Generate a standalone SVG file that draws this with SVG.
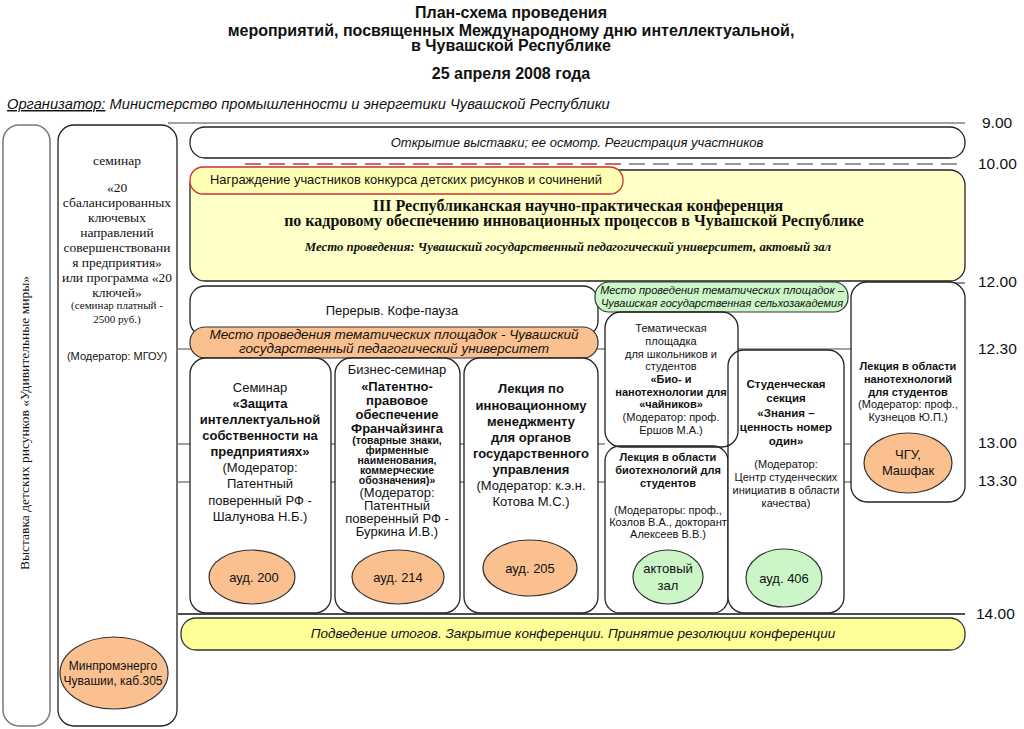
<svg xmlns="http://www.w3.org/2000/svg" width="1024" height="729" viewBox="0 0 1024 729">
<style>
text{font-family:"Liberation Sans",Arial,sans-serif;fill:#111}
.serif{font-family:"Liberation Serif","Times New Roman",serif}
.c{text-anchor:middle}
.b{font-weight:bold}
.i{font-style:italic}
.box{fill:#fff;stroke:#222;stroke-width:1.3}
.orange{fill:#FAC08F;stroke:#333;stroke-width:1.2}
.green{fill:#CCF5C8;stroke:#333;stroke-width:1.2}
.tl{stroke:#444;stroke-width:1.2;fill:none}
.time{font-size:15.5px}
</style>
<rect width="1024" height="729" fill="#fff"/>
<g id="title">
<text class="c b" x="511" y="18" font-size="16">План-схема проведения</text>
<text class="c b" x="511" y="36" font-size="16">мероприятий, посвященных Международному дню интеллектуальной,</text>
<text class="c b" x="511" y="51" font-size="16">в Чувашской Республике</text>
<text class="c b" x="511" y="79" font-size="16">25 апреля 2008 года</text>
<text class="i" x="7" y="109" font-size="14.7"><tspan text-decoration="underline">Организатор:</tspan> Министерство промышленности и энергетики Чувашской Республики</text>
</g>
<g id="connectors">
<line class="tl" x1="168" y1="123" x2="965" y2="123"/>
<line x1="245" y1="164" x2="623" y2="164" stroke="#D06A6A" stroke-width="2" stroke-dasharray="16 8"/>
<line x1="629" y1="164" x2="958" y2="164" stroke="#999" stroke-width="2" stroke-dasharray="16 8"/>
<line class="tl" x1="940" y1="283" x2="965" y2="283"/>
<line class="tl" x1="178" y1="349" x2="605" y2="349"/>
<line class="tl" x1="738" y1="349" x2="965" y2="349"/>
<line class="tl" x1="178" y1="444" x2="605" y2="444"/>
<line class="tl" x1="738" y1="444" x2="965" y2="444"/>
<line class="tl" x1="178" y1="482" x2="965" y2="482"/>
<line x1="178" y1="614" x2="965" y2="614" stroke="#111" stroke-width="1.6"/>
</g>
<g id="times">
<text class="time" x="982" y="128">9.00</text>
<text class="time" x="978" y="169">10.00</text>
<text class="time" x="978" y="287">12.00</text>
<text class="time" x="978" y="354">12.30</text>
<text class="time" x="978" y="448">13.00</text>
<text class="time" x="978" y="486">13.30</text>
<text class="time" x="976" y="619">14.00</text>
</g>
<g id="exhibition">
<rect x="3" y="125" width="47" height="601" rx="16" fill="#fff" stroke="#777" stroke-width="1.5"/>
<text class="serif c" font-size="13.5" transform="translate(29 423) rotate(-90)">Выставка детских рисунков «Удивительные миры»</text>
</g>
<g id="seminar20">
<rect x="58" y="125" width="119" height="601" rx="16" class="box"/>
<text class="serif c" font-size="13.5" x="117"><tspan x="117" y="165">семинар</tspan><tspan x="117" y="192">«20</tspan><tspan x="117" y="207">сбалансированных</tspan><tspan x="117" y="222">ключевых</tspan><tspan x="117" y="237">направлений</tspan><tspan x="117" y="252">совершенствовани</tspan><tspan x="117" y="267">я предприятия»</tspan><tspan x="117" y="282">или программа «20</tspan><tspan x="117" y="297">ключей»</tspan></text>
<text class="serif c" font-size="11" x="117"><tspan x="117" y="309">(семинар платный -</tspan><tspan x="117" y="323">2500 руб.)</tspan></text>
<text class="c" font-size="11" x="117" y="360">(Модератор: МГОУ)</text>
<ellipse cx="114" cy="673" rx="54" ry="36" class="orange"/>
<text class="c" font-size="12" x="113"><tspan x="113" y="670">Минпромэнерго</tspan><tspan x="113" y="685">Чувашии, каб.305</tspan></text>
</g>
<g id="opening">
<rect x="190" y="127" width="775" height="31" rx="15" class="box"/>
<text class="c i" font-size="13" x="577" y="147">Открытие выставки; ее осмотр. Регистрация участников</text>
</g>
<g id="conference">
<rect x="190" y="170" width="775" height="111" rx="15" fill="#FFFFC8" stroke="#222" stroke-width="1.3"/>
<text class="serif c b" font-size="16" x="578" y="211">III Республиканская научно-практическая конференция</text>
<text class="serif c b" font-size="16" x="574" y="226">по кадровому обеспечению инновационных процессов в Чувашской Республике</text>
<text class="serif c b i" font-size="12.8" x="568" y="251">Место проведения: Чувашский государственный педагогический университет, актовый зал</text>
</g>
<g id="award">
<rect x="190" y="167" width="433" height="27" rx="13" fill="#FFFFB4" stroke="#D03030" stroke-width="1.3"/>
<text class="c" font-size="12.9" x="406" y="184">Награждение участников конкурса детских рисунков и сочинений</text>
</g>
<g id="break">
<rect x="190" y="286" width="408" height="50" rx="15" class="box"/>
<text class="c" font-size="13" x="392" y="315">Перерыв. Кофе-пауза</text>
</g>
<g id="venue-pedagog">
<rect x="190" y="327" width="408" height="31" rx="15" class="orange"/>
<text class="c i" font-size="13.5" x="394"><tspan x="394" y="339">Место проведения тематических площадок - Чувашский</tspan><tspan x="394" y="353">государственный педагогический университет</tspan></text>
</g>
<g id="venue-agro">
<rect x="595" y="282" width="253" height="30" rx="14" class="green"/>
<text class="c i" font-size="11" x="722"><tspan x="722" y="294">Место проведения тематических площадок –</tspan><tspan x="722" y="307">Чувашская государственная сельхозакадемия</tspan></text>
</g>
<g id="seminar-ip">
<rect x="190" y="358" width="141" height="255" rx="16" class="box"/>
<text class="c" font-size="13" x="260"><tspan x="260" y="392">Семинар</tspan><tspan class="b" x="260" y="408">«Защита</tspan><tspan class="b" x="260" y="424">интеллектуальной</tspan><tspan class="b" x="260" y="440">собственности на</tspan><tspan class="b" x="260" y="456">предприятиях»</tspan><tspan x="260" y="472">(Модератор:</tspan><tspan x="260" y="488">Патентный</tspan><tspan x="260" y="505">поверенный РФ -</tspan><tspan x="260" y="521">Шалунова Н.Б.)</tspan></text>
<ellipse cx="252" cy="577" rx="43" ry="27" class="orange"/>
<text class="c" font-size="13" x="254" y="582">ауд. 200</text>
</g>
<g id="seminar-franchise">
<rect x="335" y="358" width="125" height="255" rx="16" class="box"/>
<text class="c" font-size="13" x="397"><tspan x="397" y="374">Бизнес-семинар</tspan><tspan class="b" x="397" y="391">«Патентно-</tspan><tspan class="b" x="397" y="405">правовое</tspan><tspan class="b" x="397" y="419">обеспечение</tspan><tspan class="b" x="397" y="433">Франчайзинга</tspan></text>
<text class="c b" font-size="10.5" x="397"><tspan x="397" y="444">(товарные знаки,</tspan><tspan x="397" y="454">фирменные</tspan><tspan x="397" y="464">наименования,</tspan><tspan x="397" y="474">коммерческие</tspan><tspan x="397" y="484">обозначения)»</tspan></text>
<text class="c" font-size="13" x="397"><tspan x="397" y="497">(Модератор:</tspan><tspan x="397" y="510">Патентный</tspan><tspan x="397" y="523">поверенный РФ -</tspan><tspan x="397" y="536">Буркина И.В.)</tspan></text>
<ellipse cx="398" cy="577" rx="46" ry="27" class="orange"/>
<text class="c" font-size="13" x="398" y="582">ауд. 214</text>
</g>
<g id="lecture-mgmt">
<rect x="464" y="358" width="134" height="255" rx="16" class="box"/>
<text class="c" font-size="13" x="531"><tspan class="b" x="531" y="393">Лекция по</tspan><tspan class="b" x="531" y="410">инновационному</tspan><tspan class="b" x="531" y="426">менеджменту</tspan><tspan class="b" x="531" y="442">для органов</tspan><tspan class="b" x="531" y="458">государственного</tspan><tspan class="b" x="531" y="474">управления</tspan><tspan x="531" y="490">(Модератор: к.э.н.</tspan><tspan x="531" y="506">Котова М.С.)</tspan></text>
<ellipse cx="530" cy="568" rx="47" ry="28" class="orange"/>
<text class="c" font-size="13" x="530" y="573">ауд. 205</text>
</g>
<g id="biotech">
<rect x="605" y="446" width="123" height="167" rx="15" class="box"/>
<text class="c" font-size="11" x="668"><tspan class="b" x="668" y="461">Лекция в области</tspan><tspan class="b" x="668" y="474">биотехнологий для</tspan><tspan class="b" x="668" y="487">студентов</tspan><tspan x="668" y="514">(Модераторы: проф.,</tspan><tspan x="668" y="526">Козлов В.А., докторант</tspan><tspan x="668" y="538">Алексеев В.В.)</tspan></text>
<ellipse cx="668" cy="577" rx="35" ry="27" class="green"/>
<text class="c" font-size="13" x="668"><tspan x="668" y="573">актовый</tspan><tspan x="668" y="590">зал</tspan></text>
</g>
<g id="student-section">
<rect x="728" y="350" width="116" height="263" rx="16" class="box"/>
<text class="c" font-size="11.5" x="786"><tspan class="b" x="786" y="388">Студенческая</tspan><tspan class="b" x="786" y="402">секция</tspan><tspan class="b" x="786" y="417">«Знания –</tspan><tspan class="b" x="786" y="431">ценность номер</tspan><tspan class="b" x="786" y="445">один»</tspan></text>
<text class="c" font-size="11" x="786"><tspan x="786" y="468">(Модератор:</tspan><tspan x="786" y="481">Центр студенческих</tspan><tspan x="786" y="494">инициатив в области</tspan><tspan x="786" y="507">качества)</tspan></text>
<ellipse cx="784" cy="578" rx="38" ry="29" class="green"/>
<text class="c" font-size="13" x="784" y="583">ауд. 406</text>
</g>
<g id="thematic">
<rect x="605" y="312" width="133" height="135" rx="16" fill="none" stroke="#222" stroke-width="1.3"/>
<text class="c" font-size="11" x="671"><tspan x="671" y="332">Тематическая</tspan><tspan x="671" y="345">площадка</tspan><tspan x="671" y="358">для школьников и</tspan><tspan x="671" y="370">студентов</tspan><tspan class="b" x="671" y="383">«Био- и</tspan><tspan class="b" x="671" y="396">нанотехнологии для</tspan><tspan class="b" x="671" y="408">«чайников»</tspan><tspan x="671" y="421">(Модератор: проф.</tspan><tspan x="671" y="434">Ершов М.А.)</tspan></text>
</g>
<g id="nano">
<rect x="851" y="282" width="114" height="220" rx="16" class="box"/>
<text class="c" font-size="11" x="908"><tspan class="b" x="908" y="370">Лекция в области</tspan><tspan class="b" x="908" y="383">нанотехнологий</tspan><tspan class="b" x="908" y="396">для студентов</tspan><tspan x="908" y="408">(Модератор: проф.,</tspan><tspan x="908" y="421">Кузнецов Ю.П.)</tspan></text>
<ellipse cx="908" cy="463" rx="44" ry="30" class="orange"/>
<text class="c" font-size="13" x="908"><tspan x="908" y="459">ЧГУ,</tspan><tspan x="908" y="475">Машфак</tspan></text>
</g>
<g id="closing">
<rect x="181" y="618" width="784" height="32" rx="15" fill="#FFFF99" stroke="#333" stroke-width="1.3"/>
<text class="c i" font-size="13.5" x="573" y="638">Подведение итогов. Закрытие конференции. Принятие резолюции конференции</text>
</g>
</svg>
